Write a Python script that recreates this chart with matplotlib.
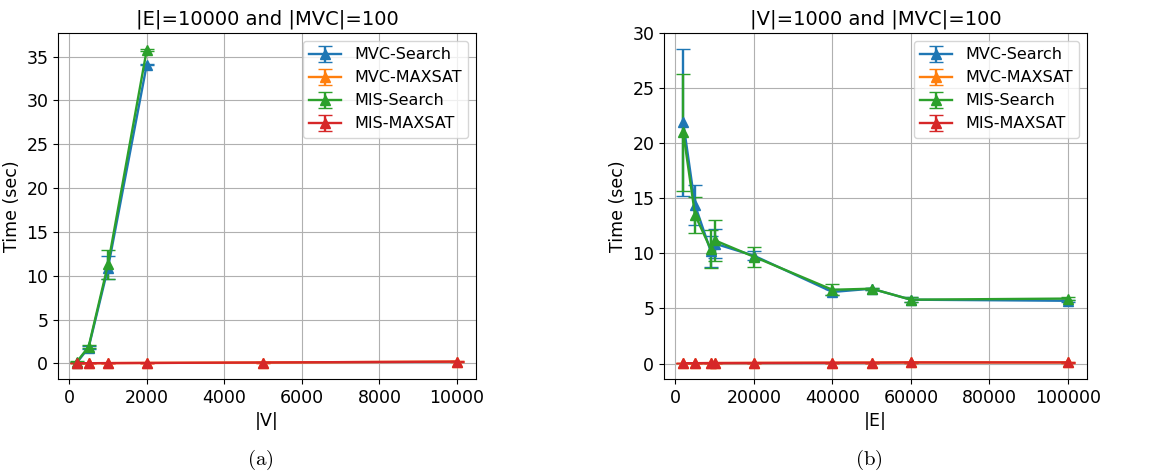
import matplotlib
matplotlib.use('Agg')
import matplotlib.pyplot as plt

# panel (a): |E|=10000, varying |V|
v_search = [200, 500, 1000, 2000]
v_maxsat = [200, 500, 1000, 2000, 5000, 10000]
a_mvc_search = [0.1, 1.8, 10.9, 34.1]
a_mvc_search_err = [0.05, 0.15, 1.3, 0.1]
a_mis_search = [0.2, 1.9, 11.3, 35.8]
a_mis_search_err = [0.05, 0.15, 1.65, 0.1]
a_mvc_maxsat = [0.02, 0.02, 0.03, 0.05, 0.1, 0.2]
a_mvc_maxsat_err = [0.01, 0.01, 0.01, 0.01, 0.02, 0.03]
a_mis_maxsat = [0.02, 0.02, 0.03, 0.05, 0.1, 0.2]
a_mis_maxsat_err = [0.01, 0.01, 0.01, 0.01, 0.02, 0.03]

# panel (b): |V|=1000, varying |E|
e_vals = [2000, 5000, 9000, 10000, 20000, 40000, 50000, 60000, 100000]
b_mvc_search = [21.9, 14.4, 10.2, 10.9, 9.8, 6.5, 6.8, 5.8, 5.7]
b_mvc_search_err = [6.7, 1.8, 1.4, 1.3, 0.4, 0.3, 0.1, 0.2, 0.1]
b_mis_search = [21.0, 13.5, 10.4, 11.2, 9.7, 6.7, 6.8, 5.8, 5.9]
b_mis_search_err = [5.3, 1.6, 1.7, 1.85, 0.9, 0.5, 0.1, 0.2, 0.1]
b_mvc_maxsat = [0.03, 0.03, 0.04, 0.04, 0.05, 0.07, 0.08, 0.1, 0.1]
b_mvc_maxsat_err = [0.01, 0.01, 0.01, 0.01, 0.01, 0.01, 0.01, 0.02, 0.02]
b_mis_maxsat = [0.03, 0.03, 0.04, 0.04, 0.05, 0.07, 0.08, 0.1, 0.1]
b_mis_maxsat_err = [0.01, 0.01, 0.01, 0.01, 0.01, 0.01, 0.01, 0.02, 0.02]

labels = ['MVC-Search', 'MVC-MAXSAT', 'MIS-Search', 'MIS-MAXSAT']
colors = ['tab:blue', 'tab:orange', 'tab:green', 'tab:red']

plt.rcParams['mathtext.fontset'] = 'cm'

fig = plt.figure(figsize=(11.53, 4.72), dpi=100)
ax1 = fig.add_axes([0.0503, 0.197, 0.3625, 0.733])
ax2 = fig.add_axes([0.5759, 0.197, 0.367, 0.733])


def draw_panel(ax, series, title, xlabel):
    for (x, y, err), lab, col in zip(series, labels, colors):
        ax.errorbar(x, y, yerr=err, marker='^', markersize=7, capsize=5,
                    color=col, label=lab, linewidth=1.7)
    ax.set_title(title, fontsize=14)
    ax.set_xlabel(xlabel, fontsize=12.5)
    ax.set_ylabel('Time (sec)', fontsize=12.5)
    ax.tick_params(labelsize=12.5)
    ax.grid(True)
    ax.legend(loc='upper right', fontsize=11.5)


draw_panel(ax1, [(v_search, a_mvc_search, a_mvc_search_err),
                 (v_maxsat, a_mvc_maxsat, a_mvc_maxsat_err),
                 (v_search, a_mis_search, a_mis_search_err),
                 (v_maxsat, a_mis_maxsat, a_mis_maxsat_err)],
           '|E|=10000 and |MVC|=100', '|V|')
ax1.set_yticks([0, 5, 10, 15, 20, 25, 30, 35])

draw_panel(ax2, [(e_vals, b_mvc_search, b_mvc_search_err),
                 (e_vals, b_mvc_maxsat, b_mvc_maxsat_err),
                 (e_vals, b_mis_search, b_mis_search_err),
                 (e_vals, b_mis_maxsat, b_mis_maxsat_err)],
           '|V|=1000 and |MVC|=100', '|E|')

fig.text(260 / 1153, 1 - 460 / 472, r'$\mathrm{(a)}$', fontsize=15, ha='center', va='center')
fig.text(869 / 1153, 1 - 460 / 472, r'$\mathrm{(b)}$', fontsize=15, ha='center', va='center')

fig.savefig('out.png', dpi=100)
